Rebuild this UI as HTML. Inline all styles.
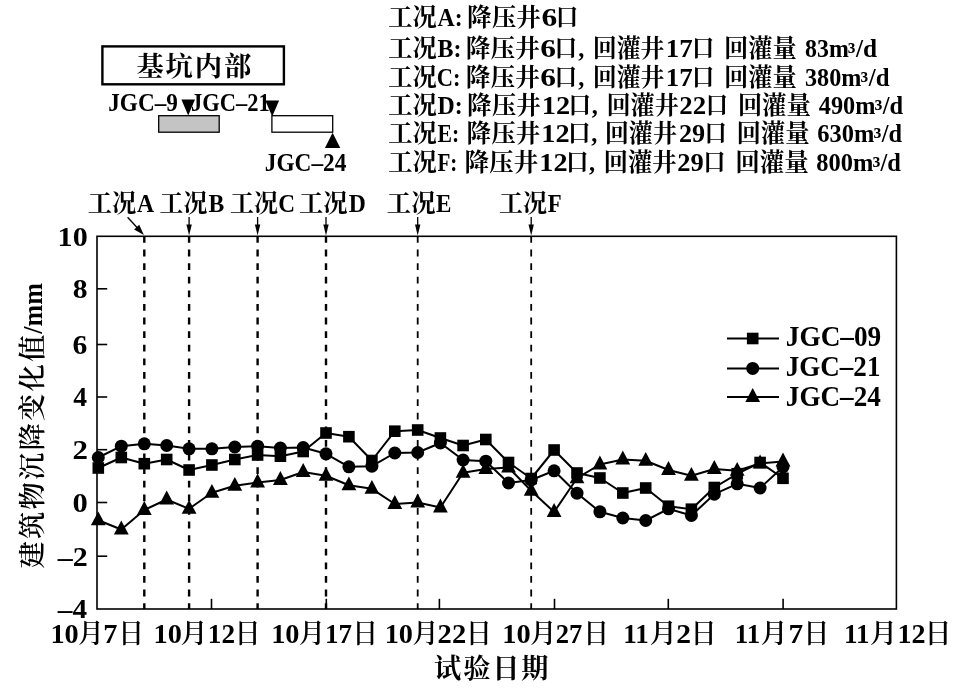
<!DOCTYPE html>
<html lang="zh-CN">
<head>
<meta charset="utf-8">
<title>建筑物沉降变化值</title>
<style>
html,body{margin:0;padding:0;background:#fff;}
body{width:968px;height:690px;overflow:hidden;}
svg{display:block;}
text{font-family:"Liberation Serif","Noto Serif CJK SC",serif;fill:#000;}
.w500{font-weight:500;}
.w600{font-weight:600;}
.w700{font-weight:700;}
.w900{font-weight:900;}
polygon,circle,.m{fill:#000;}
</style>
</head>
<body>
<svg width="968" height="690" viewBox="0 0 968 690">
<rect x="0" y="0" width="968" height="690" fill="#fff"/>
<g id="key">
<rect x="102.4" y="46.4" width="181.5" height="37.9" fill="#fff" stroke="#000" stroke-width="2.4"/>
<rect x="158.7" y="115.7" width="60.5" height="16.5" fill="#c4c4c4" stroke="#000" stroke-width="1.3"/>
<rect x="271.9" y="115.7" width="60.8" height="16.5" fill="#fff" stroke="#000" stroke-width="1.3"/>
<polygon points="181.4,99.6 195.0,99.6 188.2,115.4"/>
<polygon points="265.3,100.4 279.1,100.4 272.2,116.4"/>
<polygon points="332.6,132.8 324.9,148.0 340.3,148.0"/>
</g>
<g id="conds" stroke="#000">
<line x1="144.3" y1="236.0" x2="144.3" y2="609.0" stroke-width="2.4" stroke-dasharray="6.8 6.8"/>
<line x1="189.1" y1="236.0" x2="189.1" y2="609.0" stroke-width="2.4" stroke-dasharray="6.8 6.8"/>
<line x1="257.6" y1="236.0" x2="257.6" y2="609.0" stroke-width="2.4" stroke-dasharray="6.8 6.8"/>
<line x1="326.0" y1="236.0" x2="326.0" y2="609.0" stroke-width="2.4" stroke-dasharray="6.8 6.8"/>
<line x1="417.7" y1="236.0" x2="417.7" y2="609.0" stroke-width="1.8" stroke-dasharray="6.8 6.8"/>
<line x1="531.2" y1="236.0" x2="531.2" y2="609.0" stroke-width="1.8" stroke-dasharray="6.8 6.8"/>
<line x1="127.6" y1="217.2" x2="138.6" y2="229.2" stroke-width="1.3"/>
<line x1="189.1" y1="217" x2="189.1" y2="227" stroke-width="1.3"/>
<line x1="257.6" y1="217" x2="257.6" y2="227" stroke-width="1.3"/>
<line x1="326.0" y1="217" x2="326.0" y2="227" stroke-width="1.3"/>
<line x1="417.7" y1="217" x2="417.7" y2="227" stroke-width="1.3"/>
<line x1="531.2" y1="217" x2="531.2" y2="227" stroke-width="1.3"/>
</g>
<polygon points="143.9,235.0 134.1,229.6 139.2,224.8"/>
<polygon points="189.1,235.6 186.4,224.4 191.79999999999998,224.4"/>
<polygon points="257.6,235.6 254.90000000000003,224.4 260.3,224.4"/>
<polygon points="326.0,235.6 323.3,224.4 328.7,224.4"/>
<polygon points="417.7,235.6 415.0,224.4 420.4,224.4"/>
<polygon points="531.2,235.6 528.5,224.4 533.9000000000001,224.4"/>
<g id="axes" stroke="#000" stroke-width="1.6" fill="none">
<rect x="97.0" y="236.3" width="799.4" height="372.7"/>
<line x1="97.0" y1="288.8" x2="107.2" y2="288.8"/>
<line x1="97.0" y1="344.5" x2="107.2" y2="344.5"/>
<line x1="97.0" y1="397.0" x2="107.2" y2="397.0"/>
<line x1="97.0" y1="449.7" x2="107.2" y2="449.7"/>
<line x1="97.0" y1="502.5" x2="107.2" y2="502.5"/>
<line x1="97.0" y1="556.2" x2="107.2" y2="556.2"/>
<line x1="211.5" y1="609.0" x2="211.5" y2="598.8"/>
<line x1="326.3" y1="609.0" x2="326.3" y2="598.8"/>
<line x1="439.4" y1="609.0" x2="439.4" y2="598.8"/>
<line x1="554.5" y1="609.0" x2="554.5" y2="598.8"/>
<line x1="668.3" y1="609.0" x2="668.3" y2="598.8"/>
<line x1="783.1" y1="609.0" x2="783.1" y2="598.8"/>
</g>
<g id="series">
<polyline points="98.3,468.0 121.3,457.5 144.3,463.8 166.7,459.5 189.1,470.0 211.9,465.0 234.8,459.5 257.6,455.0 280.4,456.2 303.2,451.5 326.0,433.0 348.9,436.8 371.9,460.5 394.8,431.2 417.7,430.0 440.4,438.0 463.1,445.5 485.8,439.5 508.5,462.5 531.2,478.5 554.1,450.0 577.0,473.0 599.9,478.0 622.8,493.0 645.7,488.0 668.5,506.2 691.4,509.2 714.3,487.5 737.2,473.8 760.1,462.5 783.0,478.3" fill="none" stroke="#000" stroke-width="2" stroke-linejoin="round"/>
<polyline points="98.3,457.5 121.3,446.2 144.3,443.8 166.7,445.5 189.1,448.8 211.9,448.8 234.8,447.0 257.6,446.2 280.4,448.0 303.2,447.5 326.0,453.8 348.9,466.8 371.9,466.2 394.8,453.0 417.7,452.5 440.4,443.0 463.1,460.0 485.8,461.2 508.5,483.0 531.2,480.0 554.1,470.8 577.0,493.2 599.9,511.8 622.8,518.0 645.7,520.5 668.5,508.8 691.4,515.5 714.3,494.2 737.2,483.8 760.1,488.0 783.0,467.0" fill="none" stroke="#000" stroke-width="2" stroke-linejoin="round"/>
<polyline points="98.3,520.2 121.3,529.5 144.3,510.0 166.7,499.5 189.1,508.8 211.9,492.8 234.8,485.8 257.6,482.5 280.4,480.0 303.2,472.0 326.0,475.8 348.9,485.2 371.9,488.8 394.8,504.0 417.7,502.5 440.4,507.5 463.1,472.8 485.8,469.0 508.5,467.5 531.2,490.8 554.1,512.0 577.0,478.2 599.9,464.5 622.8,459.5 645.7,460.8 668.5,470.0 691.4,475.8 714.3,469.0 737.2,470.8 760.1,463.5 783.0,461.5" fill="none" stroke="#000" stroke-width="2" stroke-linejoin="round"/>
<rect class="m" x="92.5" y="462.2" width="11.6" height="11.6"/><rect class="m" x="115.5" y="451.7" width="11.6" height="11.6"/><rect class="m" x="138.5" y="457.9" width="11.6" height="11.6"/><rect class="m" x="160.9" y="453.7" width="11.6" height="11.6"/><rect class="m" x="183.3" y="464.2" width="11.6" height="11.6"/><rect class="m" x="206.1" y="459.2" width="11.6" height="11.6"/><rect class="m" x="229.0" y="453.7" width="11.6" height="11.6"/><rect class="m" x="251.8" y="449.2" width="11.6" height="11.6"/><rect class="m" x="274.6" y="450.4" width="11.6" height="11.6"/><rect class="m" x="297.4" y="445.7" width="11.6" height="11.6"/><rect class="m" x="320.2" y="427.2" width="11.6" height="11.6"/><rect class="m" x="343.1" y="430.9" width="11.6" height="11.6"/><rect class="m" x="366.1" y="454.7" width="11.6" height="11.6"/><rect class="m" x="389.0" y="425.4" width="11.6" height="11.6"/><rect class="m" x="411.9" y="424.2" width="11.6" height="11.6"/><rect class="m" x="434.6" y="432.2" width="11.6" height="11.6"/><rect class="m" x="457.3" y="439.7" width="11.6" height="11.6"/><rect class="m" x="480.0" y="433.7" width="11.6" height="11.6"/><rect class="m" x="502.7" y="456.7" width="11.6" height="11.6"/><rect class="m" x="525.4" y="472.7" width="11.6" height="11.6"/><rect class="m" x="548.3" y="444.2" width="11.6" height="11.6"/><rect class="m" x="571.2" y="467.2" width="11.6" height="11.6"/><rect class="m" x="594.1" y="472.2" width="11.6" height="11.6"/><rect class="m" x="617.0" y="487.2" width="11.6" height="11.6"/><rect class="m" x="639.9" y="482.2" width="11.6" height="11.6"/><rect class="m" x="662.7" y="500.4" width="11.6" height="11.6"/><rect class="m" x="685.6" y="503.4" width="11.6" height="11.6"/><rect class="m" x="708.5" y="481.7" width="11.6" height="11.6"/><rect class="m" x="731.4" y="467.9" width="11.6" height="11.6"/><rect class="m" x="754.3" y="456.7" width="11.6" height="11.6"/><rect class="m" x="777.2" y="472.5" width="11.6" height="11.6"/>
<circle cx="98.3" cy="457.5" r="6.5"/><circle cx="121.3" cy="446.2" r="6.5"/><circle cx="144.3" cy="443.8" r="6.5"/><circle cx="166.7" cy="445.5" r="6.5"/><circle cx="189.1" cy="448.8" r="6.5"/><circle cx="211.9" cy="448.8" r="6.5"/><circle cx="234.8" cy="447.0" r="6.5"/><circle cx="257.6" cy="446.2" r="6.5"/><circle cx="280.4" cy="448.0" r="6.5"/><circle cx="303.2" cy="447.5" r="6.5"/><circle cx="326.0" cy="453.8" r="6.5"/><circle cx="348.9" cy="466.8" r="6.5"/><circle cx="371.9" cy="466.2" r="6.5"/><circle cx="394.8" cy="453.0" r="6.5"/><circle cx="417.7" cy="452.5" r="6.5"/><circle cx="440.4" cy="443.0" r="6.5"/><circle cx="463.1" cy="460.0" r="6.5"/><circle cx="485.8" cy="461.2" r="6.5"/><circle cx="508.5" cy="483.0" r="6.5"/><circle cx="531.2" cy="480.0" r="6.5"/><circle cx="554.1" cy="470.8" r="6.5"/><circle cx="577.0" cy="493.2" r="6.5"/><circle cx="599.9" cy="511.8" r="6.5"/><circle cx="622.8" cy="518.0" r="6.5"/><circle cx="645.7" cy="520.5" r="6.5"/><circle cx="668.5" cy="508.8" r="6.5"/><circle cx="691.4" cy="515.5" r="6.5"/><circle cx="714.3" cy="494.2" r="6.5"/><circle cx="737.2" cy="483.8" r="6.5"/><circle cx="760.1" cy="488.0" r="6.5"/><circle cx="783.0" cy="467.0" r="6.5"/>
<polygon points="98.3,511.4 90.9,525.2 105.7,525.2"/><polygon points="121.3,520.6 113.9,534.5 128.7,534.5"/><polygon points="144.3,501.1 136.9,515.0 151.7,515.0"/><polygon points="166.7,490.6 159.3,504.5 174.1,504.5"/><polygon points="189.1,499.9 181.7,513.8 196.5,513.8"/><polygon points="211.9,483.9 204.5,497.8 219.3,497.8"/><polygon points="234.8,476.9 227.4,490.8 242.2,490.8"/><polygon points="257.6,473.6 250.2,487.5 265.0,487.5"/><polygon points="280.4,471.1 273.0,485.0 287.8,485.0"/><polygon points="303.2,463.1 295.8,477.0 310.6,477.0"/><polygon points="326.0,466.9 318.6,480.8 333.4,480.8"/><polygon points="348.9,476.4 341.5,490.2 356.3,490.2"/><polygon points="371.9,479.9 364.5,493.8 379.2,493.8"/><polygon points="394.8,495.1 387.4,509.0 402.2,509.0"/><polygon points="417.7,493.6 410.3,507.5 425.1,507.5"/><polygon points="440.4,498.6 433.0,512.5 447.8,512.5"/><polygon points="463.1,463.9 455.7,477.8 470.5,477.8"/><polygon points="485.8,460.1 478.4,474.0 493.2,474.0"/><polygon points="508.5,458.6 501.1,472.5 515.9,472.5"/><polygon points="531.2,481.9 523.8,495.8 538.6,495.8"/><polygon points="554.1,503.1 546.7,517.0 561.5,517.0"/><polygon points="577.0,469.4 569.6,483.2 584.4,483.2"/><polygon points="599.9,455.6 592.5,469.5 607.3,469.5"/><polygon points="622.8,450.6 615.4,464.5 630.2,464.5"/><polygon points="645.7,451.9 638.3,465.8 653.1,465.8"/><polygon points="668.5,461.1 661.1,475.0 675.9,475.0"/><polygon points="691.4,466.9 684.0,480.8 698.8,480.8"/><polygon points="714.3,460.1 706.9,474.0 721.7,474.0"/><polygon points="737.2,461.9 729.8,475.8 744.6,475.8"/><polygon points="760.1,454.6 752.7,468.5 767.5,468.5"/><polygon points="783.0,452.6 775.6,466.5 790.4,466.5"/>
</g>
<g id="legend">
<line x1="727" y1="338.5" x2="779" y2="338.5" stroke="#000" stroke-width="2"/>
<rect class="m" x="746.9" y="332.7" width="11.6" height="11.6"/>
<line x1="727" y1="368.4" x2="779" y2="368.4" stroke="#000" stroke-width="2"/>
<circle cx="752.7" cy="368.4" r="6.5"/>
<line x1="727" y1="396.9" x2="779" y2="396.9" stroke="#000" stroke-width="2"/>
<polygon points="752.7,388.0 745.3,401.9 760.1,401.9"/>
</g>
<g id="labels">
<text><tspan x="388.17" y="26.00" class="w700" font-size="25.0" textLength="48.62" lengthAdjust="spacingAndGlyphs">工况</tspan><tspan x="437.57" y="26.00" class="w700" font-size="26.2" textLength="25.04" lengthAdjust="spacingAndGlyphs">A:</tspan> <tspan x="467.08" y="26.00" class="w700" font-size="25.0" textLength="73.84" lengthAdjust="spacingAndGlyphs">降压井</tspan><tspan x="541.55" y="26.00" class="w700" font-size="26.2" textLength="15.72" lengthAdjust="spacingAndGlyphs">6</tspan><tspan x="555.76" y="26.00" class="w700" font-size="25.0" textLength="22.55" lengthAdjust="spacingAndGlyphs">口</tspan></text>
<text><tspan x="388.17" y="56.60" class="w700" font-size="25.0" textLength="48.62" lengthAdjust="spacingAndGlyphs">工况</tspan><tspan x="437.46" y="56.60" class="w700" font-size="26.2" textLength="23.98" lengthAdjust="spacingAndGlyphs">B:</tspan> <tspan x="465.77" y="56.60" class="w700" font-size="25.0" textLength="74.15" lengthAdjust="spacingAndGlyphs">降压井</tspan><tspan x="540.25" y="56.60" class="w700" font-size="26.2" textLength="15.72" lengthAdjust="spacingAndGlyphs">6</tspan><tspan x="554.44" y="56.60" class="w700" font-size="25.0" textLength="22.68" lengthAdjust="spacingAndGlyphs">口</tspan><tspan x="578.37" y="56.60" class="w700" font-size="26.2" textLength="6.09" lengthAdjust="spacingAndGlyphs">,</tspan> <tspan x="592.72" y="56.60" class="w700" font-size="25.0" textLength="71.87" lengthAdjust="spacingAndGlyphs">回灌井</tspan><tspan x="665.75" y="56.60" class="w700" font-size="26.2" textLength="26.87" lengthAdjust="spacingAndGlyphs">17</tspan><tspan x="691.99" y="56.60" class="w700" font-size="25.0" textLength="22.29" lengthAdjust="spacingAndGlyphs">口</tspan> <tspan x="723.95" y="56.60" class="w700" font-size="25.0" textLength="72.78" lengthAdjust="spacingAndGlyphs">回灌量</tspan> <tspan x="805.10" y="56.60" class="w700" font-size="25.5" textLength="43.75" lengthAdjust="spacingAndGlyphs">83m</tspan><tspan x="847.84" y="59.65" class="w700" font-size="25.2" textLength="7.67" lengthAdjust="spacingAndGlyphs">³</tspan><tspan x="856.05" y="56.60" class="w700" font-size="25.5" textLength="21.13" lengthAdjust="spacingAndGlyphs">/d</tspan></text>
<text><tspan x="388.17" y="85.80" class="w700" font-size="25.0" textLength="48.62" lengthAdjust="spacingAndGlyphs">工况</tspan><tspan x="436.72" y="85.80" class="w700" font-size="26.2" textLength="23.79" lengthAdjust="spacingAndGlyphs">C:</tspan> <tspan x="465.77" y="85.80" class="w700" font-size="25.0" textLength="74.15" lengthAdjust="spacingAndGlyphs">降压井</tspan><tspan x="540.25" y="85.80" class="w700" font-size="26.2" textLength="15.72" lengthAdjust="spacingAndGlyphs">6</tspan><tspan x="554.44" y="85.80" class="w700" font-size="25.0" textLength="22.68" lengthAdjust="spacingAndGlyphs">口</tspan><tspan x="578.37" y="85.80" class="w700" font-size="26.2" textLength="6.09" lengthAdjust="spacingAndGlyphs">,</tspan> <tspan x="592.72" y="85.80" class="w700" font-size="25.0" textLength="71.87" lengthAdjust="spacingAndGlyphs">回灌井</tspan><tspan x="665.75" y="85.80" class="w700" font-size="26.2" textLength="26.87" lengthAdjust="spacingAndGlyphs">17</tspan><tspan x="691.99" y="85.80" class="w700" font-size="25.0" textLength="22.29" lengthAdjust="spacingAndGlyphs">口</tspan> <tspan x="723.95" y="85.80" class="w700" font-size="25.0" textLength="72.78" lengthAdjust="spacingAndGlyphs">回灌量</tspan> <tspan x="804.97" y="85.80" class="w700" font-size="25.5" textLength="56.38" lengthAdjust="spacingAndGlyphs">380m</tspan><tspan x="860.54" y="88.85" class="w700" font-size="25.2" textLength="7.67" lengthAdjust="spacingAndGlyphs">³</tspan><tspan x="868.74" y="85.80" class="w700" font-size="25.5" textLength="20.73" lengthAdjust="spacingAndGlyphs">/d</tspan></text>
<text><tspan x="388.17" y="114.00" class="w700" font-size="25.0" textLength="48.62" lengthAdjust="spacingAndGlyphs">工况</tspan><tspan x="437.46" y="114.00" class="w700" font-size="26.2" textLength="25.17" lengthAdjust="spacingAndGlyphs">D:</tspan> <tspan x="467.08" y="114.00" class="w700" font-size="25.0" textLength="73.84" lengthAdjust="spacingAndGlyphs">降压井</tspan><tspan x="541.84" y="114.00" class="w700" font-size="26.2" textLength="28.35" lengthAdjust="spacingAndGlyphs">12</tspan><tspan x="568.46" y="114.00" class="w700" font-size="25.0" textLength="22.55" lengthAdjust="spacingAndGlyphs">口</tspan><tspan x="591.77" y="114.00" class="w700" font-size="26.2" textLength="6.09" lengthAdjust="spacingAndGlyphs">,</tspan> <tspan x="606.46" y="114.00" class="w700" font-size="25.0" textLength="72.40" lengthAdjust="spacingAndGlyphs">回灌井</tspan><tspan x="679.28" y="114.00" class="w700" font-size="26.2" textLength="26.85" lengthAdjust="spacingAndGlyphs">22</tspan><tspan x="705.74" y="114.00" class="w700" font-size="25.0" textLength="22.29" lengthAdjust="spacingAndGlyphs">口</tspan> <tspan x="737.68" y="114.00" class="w700" font-size="25.0" textLength="73.36" lengthAdjust="spacingAndGlyphs">回灌量</tspan> <tspan x="818.76" y="114.00" class="w700" font-size="25.5" textLength="56.59" lengthAdjust="spacingAndGlyphs">490m</tspan><tspan x="874.53" y="117.05" class="w700" font-size="25.2" textLength="7.90" lengthAdjust="spacingAndGlyphs">³</tspan><tspan x="882.74" y="114.00" class="w700" font-size="25.5" textLength="20.43" lengthAdjust="spacingAndGlyphs">/d</tspan></text>
<text><tspan x="388.17" y="141.90" class="w700" font-size="25.0" textLength="48.62" lengthAdjust="spacingAndGlyphs">工况</tspan><tspan x="437.49" y="141.90" class="w700" font-size="26.2" textLength="21.76" lengthAdjust="spacingAndGlyphs">E:</tspan> <tspan x="466.58" y="141.90" class="w700" font-size="25.0" textLength="73.84" lengthAdjust="spacingAndGlyphs">降压井</tspan><tspan x="541.34" y="141.90" class="w700" font-size="26.2" textLength="28.35" lengthAdjust="spacingAndGlyphs">12</tspan><tspan x="567.96" y="141.90" class="w700" font-size="25.0" textLength="22.55" lengthAdjust="spacingAndGlyphs">口</tspan><tspan x="591.27" y="141.90" class="w700" font-size="26.2" textLength="6.09" lengthAdjust="spacingAndGlyphs">,</tspan> <tspan x="604.71" y="141.90" class="w700" font-size="25.0" textLength="72.40" lengthAdjust="spacingAndGlyphs">回灌井</tspan><tspan x="679.00" y="141.90" class="w700" font-size="26.2" textLength="26.15" lengthAdjust="spacingAndGlyphs">29</tspan><tspan x="704.49" y="141.90" class="w700" font-size="25.0" textLength="22.29" lengthAdjust="spacingAndGlyphs">口</tspan> <tspan x="736.43" y="141.90" class="w700" font-size="25.0" textLength="73.20" lengthAdjust="spacingAndGlyphs">回灌量</tspan> <tspan x="817.28" y="141.90" class="w700" font-size="25.5" textLength="57.07" lengthAdjust="spacingAndGlyphs">630m</tspan><tspan x="873.53" y="144.95" class="w700" font-size="25.2" textLength="7.90" lengthAdjust="spacingAndGlyphs">³</tspan><tspan x="881.74" y="141.90" class="w700" font-size="25.5" textLength="20.33" lengthAdjust="spacingAndGlyphs">/d</tspan></text>
<text><tspan x="388.17" y="170.60" class="w700" font-size="25.0" textLength="48.62" lengthAdjust="spacingAndGlyphs">工况</tspan><tspan x="437.50" y="170.60" class="w700" font-size="26.2" textLength="19.89" lengthAdjust="spacingAndGlyphs">F:</tspan> <tspan x="464.48" y="170.60" class="w700" font-size="25.0" textLength="73.84" lengthAdjust="spacingAndGlyphs">降压井</tspan><tspan x="539.34" y="170.60" class="w700" font-size="26.2" textLength="28.24" lengthAdjust="spacingAndGlyphs">12</tspan><tspan x="565.96" y="170.60" class="w700" font-size="25.0" textLength="22.55" lengthAdjust="spacingAndGlyphs">口</tspan><tspan x="589.07" y="170.60" class="w700" font-size="26.2" textLength="6.09" lengthAdjust="spacingAndGlyphs">,</tspan> <tspan x="603.42" y="170.60" class="w700" font-size="25.0" textLength="73.44" lengthAdjust="spacingAndGlyphs">回灌井</tspan><tspan x="677.39" y="170.60" class="w700" font-size="26.2" textLength="26.47" lengthAdjust="spacingAndGlyphs">29</tspan><tspan x="703.24" y="170.60" class="w700" font-size="25.0" textLength="22.29" lengthAdjust="spacingAndGlyphs">口</tspan> <tspan x="735.17" y="170.60" class="w700" font-size="25.0" textLength="73.57" lengthAdjust="spacingAndGlyphs">回灌量</tspan> <tspan x="816.28" y="170.60" class="w700" font-size="25.5" textLength="57.07" lengthAdjust="spacingAndGlyphs">800m</tspan><tspan x="872.53" y="173.65" class="w700" font-size="25.2" textLength="7.90" lengthAdjust="spacingAndGlyphs">³</tspan><tspan x="880.54" y="170.60" class="w700" font-size="25.5" textLength="20.43" lengthAdjust="spacingAndGlyphs">/d</tspan></text>
<text><tspan x="136.45" y="75.60" class="w700" font-size="27.3" letter-spacing="1.88">基坑内部</tspan></text>
<text><tspan x="108.25" y="110.80" class="w700" font-size="24.5" textLength="69.57" lengthAdjust="spacingAndGlyphs">JGC–9</tspan></text>
<text><tspan x="191.08" y="110.80" class="w700" font-size="24.5" textLength="78.56" lengthAdjust="spacingAndGlyphs">JGC–21</tspan></text>
<text><tspan x="264.75" y="171.30" class="w700" font-size="24.5" textLength="81.71" lengthAdjust="spacingAndGlyphs">JGC–24</tspan></text>
<text><tspan x="87.67" y="212.00" class="w700" font-size="25.0" textLength="48.62" lengthAdjust="spacingAndGlyphs">工况</tspan><tspan x="136.97" y="212.00" class="w700" font-size="26.0" textLength="17.06" lengthAdjust="spacingAndGlyphs">A</tspan></text>
<text><tspan x="159.58" y="212.00" class="w700" font-size="25.0" textLength="47.79" lengthAdjust="spacingAndGlyphs">工况</tspan><tspan x="208.56" y="212.00" class="w700" font-size="26.0" textLength="15.79" lengthAdjust="spacingAndGlyphs">B</tspan></text>
<text><tspan x="229.88" y="212.00" class="w700" font-size="25.0" textLength="48.10" lengthAdjust="spacingAndGlyphs">工况</tspan><tspan x="278.28" y="212.00" class="w700" font-size="26.0" textLength="16.82" lengthAdjust="spacingAndGlyphs">C</tspan></text>
<text><tspan x="299.07" y="212.00" class="w700" font-size="25.0" textLength="48.62" lengthAdjust="spacingAndGlyphs">工况</tspan><tspan x="348.76" y="212.00" class="w700" font-size="26.0" textLength="17.09" lengthAdjust="spacingAndGlyphs">D</tspan></text>
<text><tspan x="386.87" y="212.00" class="w700" font-size="25.0" textLength="48.62" lengthAdjust="spacingAndGlyphs">工况</tspan><tspan x="436.07" y="212.00" class="w700" font-size="26.0" textLength="15.41" lengthAdjust="spacingAndGlyphs">E</tspan></text>
<text><tspan x="499.08" y="212.00" class="w700" font-size="25.0" textLength="48.00" lengthAdjust="spacingAndGlyphs">工况</tspan><tspan x="547.67" y="212.00" class="w700" font-size="26.0" textLength="13.92" lengthAdjust="spacingAndGlyphs">F</tspan></text>
<text><tspan x="57.61" y="245.70" class="w700" font-size="26.3" textLength="30.12" lengthAdjust="spacingAndGlyphs">10</tspan></text>
<text><tspan x="72.75" y="298.20" class="w700" font-size="26.3" textLength="14.82" lengthAdjust="spacingAndGlyphs">8</tspan></text>
<text><tspan x="72.61" y="353.90" class="w700" font-size="26.3" textLength="14.82" lengthAdjust="spacingAndGlyphs">6</tspan></text>
<text><tspan x="73.34" y="406.40" class="w700" font-size="26.3" textLength="13.78" lengthAdjust="spacingAndGlyphs">4</tspan></text>
<text><tspan x="72.42" y="459.10" class="w700" font-size="26.3" textLength="15.48" lengthAdjust="spacingAndGlyphs">2</tspan></text>
<text><tspan x="72.44" y="511.90" class="w700" font-size="26.3" textLength="15.31" lengthAdjust="spacingAndGlyphs">0</tspan></text>
<text><tspan x="57.89" y="565.60" class="w700" font-size="26.3" textLength="29.98" lengthAdjust="spacingAndGlyphs">–2</tspan></text>
<text><tspan x="57.88" y="618.40" class="w700" font-size="26.3" textLength="29.27" lengthAdjust="spacingAndGlyphs">–4</tspan></text>
<text><tspan x="50.41" y="643.20" class="w700" font-size="27.5" textLength="28.32" lengthAdjust="spacingAndGlyphs">10</tspan><tspan x="77.93" y="642.80" class="w600" font-size="27.3" textLength="25.90" lengthAdjust="spacingAndGlyphs">月</tspan><tspan x="103.15" y="643.20" class="w700" font-size="27.5" textLength="14.19" lengthAdjust="spacingAndGlyphs">7</tspan><tspan x="118.27" y="642.80" class="w600" font-size="27.3" textLength="25.70" lengthAdjust="spacingAndGlyphs">日</tspan></text>
<text><tspan x="153.61" y="643.20" class="w700" font-size="27.5" textLength="28.32" lengthAdjust="spacingAndGlyphs">10</tspan><tspan x="180.57" y="642.80" class="w600" font-size="27.3" textLength="27.30" lengthAdjust="spacingAndGlyphs">月</tspan><tspan x="207.80" y="643.20" class="w700" font-size="27.5" textLength="27.22" lengthAdjust="spacingAndGlyphs">12</tspan><tspan x="234.49" y="642.80" class="w600" font-size="27.3" textLength="26.15" lengthAdjust="spacingAndGlyphs">日</tspan></text>
<text><tspan x="271.21" y="643.20" class="w700" font-size="27.5" textLength="28.32" lengthAdjust="spacingAndGlyphs">10</tspan><tspan x="298.81" y="642.80" class="w600" font-size="27.3" textLength="26.54" lengthAdjust="spacingAndGlyphs">月</tspan><tspan x="325.11" y="643.20" class="w700" font-size="27.5" textLength="27.00" lengthAdjust="spacingAndGlyphs">17</tspan><tspan x="352.27" y="642.80" class="w600" font-size="27.3" textLength="25.70" lengthAdjust="spacingAndGlyphs">日</tspan></text>
<text><tspan x="384.71" y="643.20" class="w700" font-size="27.5" textLength="28.32" lengthAdjust="spacingAndGlyphs">10</tspan><tspan x="412.31" y="642.80" class="w600" font-size="27.3" textLength="26.54" lengthAdjust="spacingAndGlyphs">月</tspan><tspan x="437.63" y="643.20" class="w700" font-size="27.5" textLength="28.53" lengthAdjust="spacingAndGlyphs">22</tspan><tspan x="465.69" y="642.80" class="w600" font-size="27.3" textLength="26.15" lengthAdjust="spacingAndGlyphs">日</tspan></text>
<text><tspan x="502.30" y="643.20" class="w700" font-size="27.5" textLength="28.43" lengthAdjust="spacingAndGlyphs">10</tspan><tspan x="529.90" y="642.80" class="w600" font-size="27.3" textLength="26.66" lengthAdjust="spacingAndGlyphs">月</tspan><tspan x="555.81" y="643.20" class="w700" font-size="27.5" textLength="26.59" lengthAdjust="spacingAndGlyphs">27</tspan><tspan x="583.37" y="642.80" class="w600" font-size="27.3" textLength="25.70" lengthAdjust="spacingAndGlyphs">日</tspan></text>
<text><tspan x="623.21" y="643.20" class="w700" font-size="27.5" textLength="25.54" lengthAdjust="spacingAndGlyphs">11</tspan><tspan x="649.56" y="642.80" class="w600" font-size="27.3" textLength="27.68" lengthAdjust="spacingAndGlyphs">月</tspan><tspan x="676.19" y="643.20" class="w700" font-size="27.5" textLength="14.83" lengthAdjust="spacingAndGlyphs">2</tspan><tspan x="690.39" y="642.80" class="w600" font-size="27.3" textLength="26.15" lengthAdjust="spacingAndGlyphs">日</tspan></text>
<text><tspan x="734.72" y="643.20" class="w700" font-size="27.5" textLength="25.42" lengthAdjust="spacingAndGlyphs">11</tspan><tspan x="760.48" y="642.80" class="w600" font-size="27.3" textLength="27.30" lengthAdjust="spacingAndGlyphs">月</tspan><tspan x="788.60" y="643.20" class="w700" font-size="27.5" textLength="14.67" lengthAdjust="spacingAndGlyphs">7</tspan><tspan x="803.29" y="642.80" class="w600" font-size="27.3" textLength="26.15" lengthAdjust="spacingAndGlyphs">日</tspan></text>
<text><tspan x="844.01" y="643.20" class="w700" font-size="27.5" textLength="25.54" lengthAdjust="spacingAndGlyphs">11</tspan><tspan x="869.76" y="642.80" class="w600" font-size="27.3" textLength="27.68" lengthAdjust="spacingAndGlyphs">月</tspan><tspan x="897.53" y="643.20" class="w700" font-size="27.5" textLength="28.12" lengthAdjust="spacingAndGlyphs">12</tspan><tspan x="924.42" y="642.80" class="w600" font-size="27.3" textLength="27.04" lengthAdjust="spacingAndGlyphs">日</tspan></text>
<text><tspan x="434.07" y="677.70" class="w700" font-size="27.2" letter-spacing="1.88">试验日期</tspan></text>
<text transform="translate(42.00,567.80) rotate(-90)"><tspan x="-0.62" y="0" class="w600" font-size="27.3" letter-spacing="2.18">建筑物沉降变化值</tspan><tspan x="233.97" y="0" class="w700" font-size="26.5" textLength="50.77" lengthAdjust="spacingAndGlyphs">/mm</tspan></text>
<text><tspan x="785.82" y="345.70" class="w700" font-size="29.0" textLength="95.42" lengthAdjust="spacingAndGlyphs">JGC–09</tspan></text>
<text><tspan x="785.84" y="376.00" class="w700" font-size="29.0" textLength="94.56" lengthAdjust="spacingAndGlyphs">JGC–21</tspan></text>
<text><tspan x="785.83" y="406.10" class="w700" font-size="29.0" textLength="94.94" lengthAdjust="spacingAndGlyphs">JGC–24</tspan></text>
</g>
</svg>
</body>
</html>
